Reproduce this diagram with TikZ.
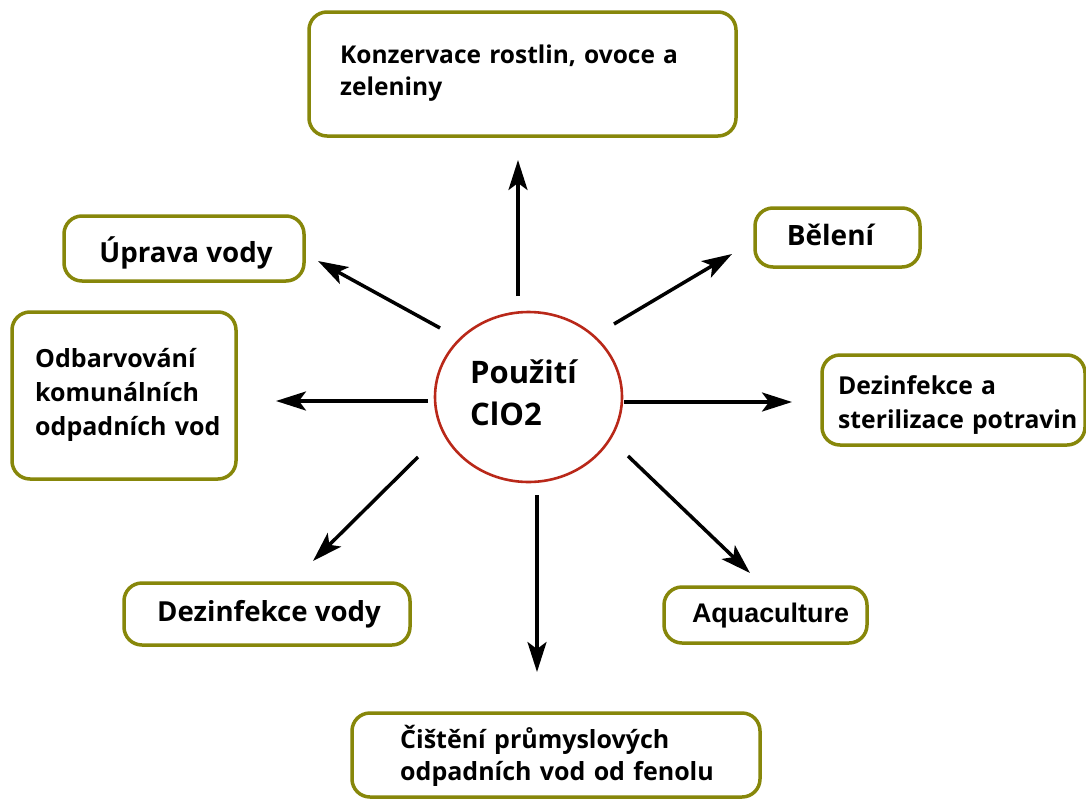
\documentclass[tikz,border=0pt]{standalone}
\usepackage{fontspec}
\setmainfont{Open Sans}
\newfontfamily\arialfont{Liberation Sans}
\usetikzlibrary{arrows.meta,shapes.geometric}
\definecolor{olivebd}{RGB}{135,135,10}
\definecolor{circred}{RGB}{185,40,25}
\tikzset{
  box/.style={draw=olivebd, line width=3.5pt, rounded corners=18pt, fill=white, inner sep=0pt},
  txt/.style={inner sep=0pt, align=left, text width=400pt, font=\bfseries},
  stxt/.style={inner sep=0pt, font=\bfseries},
  arr/.style={line width=3.5pt, -{Stealth[length=30pt,width=19pt,inset=7pt]}},
}
\begin{document}
\begin{tikzpicture}[x=1pt,y=-1pt]
\useasboundingbox (0,0) rectangle (1086,798);
\fill[white] (0,0) rectangle (1086,798);

% centre
\node[ellipse, draw=circred, line width=2.6pt, minimum width=187pt, minimum height=170pt,
  inner sep=0pt] (c) at (528.5,397) {};
\node[txt, anchor=base west, font=\fontsize{31}{42}\selectfont\bfseries] (ct) at (470,383) {Použití\\ClO2};

% boxes
\node[box, minimum width=427pt, minimum height=124pt] (kon) at (522.5,74) {};
\node[txt, anchor=base west, font=\fontsize{24.5}{32}\selectfont\bfseries] (kont) at (340,63)
  {Konzervace rostlin, ovoce a\\zeleniny};

\node[box, minimum width=240pt, minimum height=65pt] (upr) at (184,248.5) {};
\node[stxt, anchor=base, font=\fontsize{27.7}{32}\selectfont\bfseries] (uprt) at (186,262) {Úprava vody};

\node[box, minimum width=224pt, minimum height=167pt] (odb) at (124,395.5) {};
\node[txt, anchor=base west, font=\fontsize{25}{34}\selectfont\bfseries] (odbt) at (35,367)
  {Odbarvování\\komunálních\\odpadních vod};

\node[box, minimum width=165pt, minimum height=59pt] (bel) at (837.5,237.5) {};
\node[stxt, anchor=base, font=\fontsize{28}{32}\selectfont\bfseries] (belt) at (830.5,245) {Bělení};

\node[box, minimum width=263pt, minimum height=90pt] (dst) at (953.5,400) {};
\node[txt, anchor=base west, font=\fontsize{24.7}{34}\selectfont\bfseries] (dstt) at (838,394)
  {Dezinfekce a\\sterilizace potravin};

\node[box, minimum width=286pt, minimum height=62pt] (dzv) at (267,614) {};
\node[stxt, anchor=base, font=\fontsize{27.6}{32}\selectfont\bfseries] (dzvt) at (269,621) {Dezinfekce vody};

\node[box, minimum width=203pt, minimum height=56pt] (aq) at (765.5,615) {};
\node[stxt, anchor=base, font=\fontsize{26.9}{32}\selectfont\bfseries\arialfont] (aqt) at (770.5,622) {Aquaculture};

\node[box, minimum width=408pt, minimum height=84pt] (cis) at (556,755) {};
\node[txt, anchor=base west, font=\fontsize{25}{32}\selectfont\bfseries] (cist) at (400,748)
  {Čištění průmyslových\\odpadních vod od fenolu};

% connectors
\coordinate (s1) at (518,296);  \coordinate (t1) at (518,160);
\coordinate (s2) at (440,328);  \coordinate (t2) at (318,261);
\coordinate (s3) at (428,401);  \coordinate (t3) at (276,401);
\coordinate (s4) at (418,457);  \coordinate (t4) at (313,561);
\coordinate (s5) at (537,495);  \coordinate (t5) at (537,672);
\coordinate (s6) at (628,456);  \coordinate (t6) at (750,573);
\coordinate (s7) at (624,402);  \coordinate (t7) at (792,402);
\coordinate (s8) at (614,324);  \coordinate (t8) at (732,254);

\draw[arr] (s1) -- (t1);
\draw[arr] (s2) -- (t2);
\draw[arr] (s3) -- (t3);
\draw[arr] (s4) -- (t4);
\draw[arr] (s5) -- (t5);
\draw[arr] (s6) -- (t6);
\draw[arr] (s7) -- (t7);
\draw[arr] (s8) -- (t8);
\end{tikzpicture}
\end{document}
